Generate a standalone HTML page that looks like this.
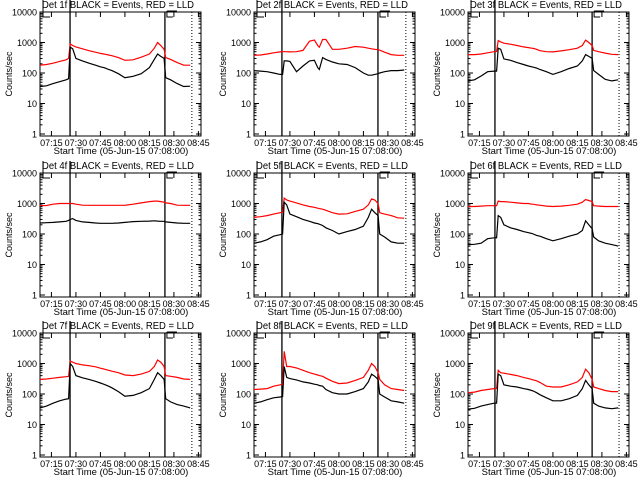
<!DOCTYPE html>
<html><head><meta charset="utf-8"><style>
html,body{margin:0;padding:0;background:#fff;}
svg{display:block;font-family:"Liberation Sans",sans-serif;}
</style></head><body>
<svg id="chart" width="640" height="480" viewBox="0 0 640 480" xmlns="http://www.w3.org/2000/svg">
<rect width="640" height="480" fill="#fff"/>
</svg>
<script>
// time grid: minutes after 07:00
const times = [8,12,16,20,24,25.5,26.5,28,30,34,38,42,45,47,48,50,52,56,60,65,70,75,78,80,82,84,85,88,92,96,100];
const detLabels = ["1f","2f","3f","4f","5f","6f","7f","8f","9f"];
const xTickLabels = ["07:15","07:30","07:45","08:00","08:15","08:30","08:45"];
const xTickTimes = [15,30,45,60,75,90,105];
const yTickLabels = ["1","10","100","1000","10000"];
const yTickValues = [1,10,100,1000,10000];
const red1 = [180,190,210,240,270,300,900,800,720,620,540,480,440,420,410,390,370,320,260,270,330,420,650,1000,800,600,320,280,220,180,180];
const blk1 = [36,38,45,52,60,65,700,620,300,250,210,180,160,150,145,130,120,95,70,78,95,150,280,420,350,300,70,60,45,36,37];
const red2 = [380,390,420,460,490,500,500,500,490,500,550,1100,1200,800,700,1250,1250,600,600,650,740,700,650,620,600,580,560,480,400,380,380];
const blk2 = [120,115,110,100,90,90,250,250,240,110,170,250,260,150,130,320,280,230,200,190,150,100,85,85,90,95,100,110,120,120,125];
const red3 = [400,400,420,460,500,510,1150,1050,950,880,800,720,680,650,640,600,540,500,490,530,580,650,800,1200,1000,800,550,500,450,410,400];
const blk3 = [55,60,80,110,115,115,650,600,290,260,220,190,170,160,155,145,130,110,90,110,140,170,250,400,350,300,120,90,62,55,60];
const red4 = [850,860,950,1000,1000,1000,1000,1000,950,880,870,870,870,870,870,870,870,870,870,950,1050,1150,1200,1200,1150,1100,1050,1000,880,870,870];
const blk4 = [230,235,240,250,260,280,300,320,280,250,240,230,225,225,225,225,225,230,240,255,260,265,270,265,260,260,250,240,230,225,225];
const red5 = [350,370,400,450,500,520,1500,1300,1200,1050,900,800,750,700,680,650,600,500,450,460,550,650,900,1400,1300,1000,500,450,400,340,330];
const blk5 = [50,55,65,85,95,100,1100,900,450,370,300,260,230,220,210,190,160,130,100,120,140,180,350,650,500,400,100,80,55,50,50];
const red6 = [800,800,820,850,850,850,1200,1150,1150,1100,1050,1000,1000,950,950,900,880,820,800,820,870,950,1100,1350,1250,1150,850,820,800,800,800];
const blk6 = [45,46,50,70,75,75,400,350,200,160,140,120,110,105,100,90,85,70,60,70,85,100,130,270,200,150,80,60,50,45,40];
const red7 = [300,310,330,350,370,380,1200,1100,1000,900,850,780,700,660,640,600,560,500,420,400,450,550,800,1300,1100,800,400,380,350,310,300];
const blk7 = [35,40,50,60,68,70,1000,800,400,340,300,260,230,210,200,180,160,120,85,90,110,150,300,500,400,300,70,55,45,40,35];
const red8 = [140,145,150,180,200,210,2500,800,800,720,600,500,450,420,400,380,330,260,220,230,280,350,600,1000,800,500,300,200,150,140,130];
const blk8 = [50,55,65,75,80,82,800,350,320,290,250,230,210,200,190,180,140,110,100,100,120,150,250,450,380,300,100,80,60,55,50];
const red9 = [110,115,130,140,150,155,600,500,480,440,400,350,320,300,290,270,240,180,170,170,200,250,350,650,500,300,170,150,130,120,120];
const blk9 = [32,34,40,45,50,50,450,400,200,180,170,150,140,130,125,110,95,75,60,60,70,90,150,280,200,150,50,40,35,33,35];
const redSeries = [red1,red2,red3,red4,red5,red6,red7,red8,red9];
const blkSeries = [blk1,blk2,blk3,blk4,blk5,blk6,blk7,blk8,blk9];
const markerTimes = [[26.4,84.5,101],[25.1,83.9,101],[24.5,84,100.5]];

const NS = "http://www.w3.org/2000/svg";
const svg = document.getElementById("chart");
function mk(tag, attrs, parent){ const e=document.createElementNS(NS,tag); for(const k in attrs) e.setAttribute(k,attrs[k]); (parent||svg).appendChild(e); return e; }
const colLeft=[40,254,468], rowTop=[12,173,333], W=161, H=124, dec=30.5, pxMin=1.633;

for(let p=0;p<9;p++){
  const c=p%3, r=Math.floor(p/3), L=colLeft[c], T=rowTop[r];
  const xs=t=>L+(t-8)*pxMin;
  const ys=v=>T+122-Math.log10(v)*dec;
  const g=mk("g",{});
  
  
  // title
  const tt=mk("text",{x:L+2,y:T-4,"font-size":"10",textLength:"152",lengthAdjust:"spacingAndGlyphs"},g);
  tt.textContent="Det "+detLabels[p]+" BLACK = Events, RED = LLD";
  
  
  // box
  const bx=mk("rect",{x:L,y:T,width:W,height:H,fill:"none",stroke:"#000","stroke-width":"1"},g);
  
  
  // y ticks
  for(let i=0;i<yTickValues.length;i++){
    const y=ys(yTickValues[i]);
    mk("line",{x1:L,x2:L+5,y1:y,y2:y,stroke:"#000"},g);
    mk("line",{x1:L+W-5,x2:L+W,y1:y,y2:y,stroke:"#000"},g);
    const lb=mk("text",{x:L-3,y:y+3.5,"font-size":"9","text-anchor":"end"},g);
    lb.textContent=yTickLabels[i];
    
    
    if(i<yTickValues.length-1){
      for(let m=2;m<10;m++){
        const ym=ys(yTickValues[i]*m);
        mk("line",{x1:L,x2:L+2.5,y1:ym,y2:ym,stroke:"#000"},g);
        mk("line",{x1:L+W-2.5,x2:L+W,y1:ym,y2:ym,stroke:"#000"},g);
      }
    }
  }
  // x ticks
  for(let i=0;i<xTickTimes.length;i++){
    const x=xs(xTickTimes[i]);
    if(x<=L+W+1){
      mk("line",{x1:x,x2:x,y1:T+H,y2:T+H-5,stroke:"#000"},g);
      mk("line",{x1:x,x2:x,y1:T,y2:T+5,stroke:"#000"},g);
    }
    const lb=mk("text",{x:x,y:T+H+10,"font-size":"9","text-anchor":"middle"},g);
    lb.textContent=xTickLabels[i];
    
    
  }
  const xt=mk("text",{x:L+81,y:T+H+18,"font-size":"9.5","text-anchor":"middle"},g);
  xt.textContent="Start Time (05-Jun-15 07:08:00)";
  
  
  const yt=mk("text",{x:0,y:0,"font-size":"9","text-anchor":"middle",transform:"translate("+(L-28)+","+(T+62)+") rotate(-90)"},g);
  yt.textContent="Counts/sec";
  
  
  // marker lines
  const mt=markerTimes[c];
  const v1=mk("line",{x1:xs(mt[0]),x2:xs(mt[0]),y1:T-12,y2:T+H,stroke:"#000","stroke-width":"1.3"},g);
  
  
  const v2=mk("line",{x1:xs(mt[1]),x2:xs(mt[1]),y1:T,y2:T+H,stroke:"#000","stroke-width":"1.3"},g);
  
  
  const v3=mk("line",{x1:xs(mt[2]),x2:xs(mt[2]),y1:T,y2:T+H,stroke:"#000","stroke-dasharray":"1,2"},g);
  
  
  mk("path",{d:"M"+(L+3)+" "+(T-12)+"V"+(T+5)+"H"+(L+10),fill:"none",stroke:"#000"},g);
  mk("path",{d:"M"+(xs(mt[1])+2)+" "+(T-1)+"V"+(T+5)+"H"+(xs(mt[1])+8)+"M"+(xs(mt[1])+2)+" "+(T-1)+"H"+(xs(mt[1])+12),fill:"none",stroke:"#000"},g);
  // series
  const rp=times.map((t,i)=>xs(t).toFixed(1)+","+ys(redSeries[p][i]).toFixed(1)).join(" ");
  const rl=mk("polyline",{points:rp,fill:"none",stroke:"#ff0000","stroke-width":"1.2"},g);
  
  
  const bp=times.map((t,i)=>xs(t).toFixed(1)+","+ys(blkSeries[p][i]).toFixed(1)).join(" ");
  const bl=mk("polyline",{points:bp,fill:"none",stroke:"#000","stroke-width":"1.2"},g);
  
  
}
</script>
</body></html>
